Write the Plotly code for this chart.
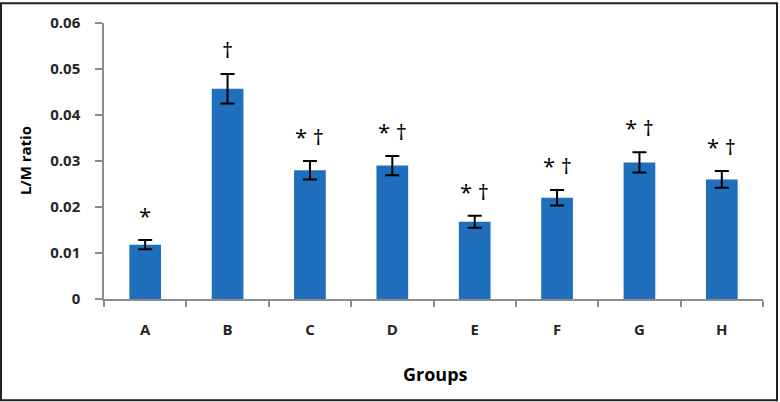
import plotly.graph_objects as go

groups = ["A", "B", "C", "D", "E", "F", "G", "H"]
lm_ratio = [0.0118, 0.0457, 0.0280, 0.0290, 0.0168, 0.0220, 0.0297, 0.0260]
lm_error = [0.0010, 0.0032, 0.0020, 0.0021, 0.0013, 0.0017, 0.0022, 0.0018]
sig_marks = ["*", "†", "* †", "* †", "* †", "* †", "* †", "* †"]
y_ticks = [0, 0.01, 0.02, 0.03, 0.04, 0.05, 0.06]
y_tick_labels = ["0", "0.01", "0.02", "0.03", "0.04", "0.05", "0.06"]

FONT = "Open Sans"
W, H = 780, 402
L, R, T, B = 104, 17, 21, 103
pw, ph = W - L - R, H - T - B

fig = go.Figure()
fig.add_trace(go.Bar(
    x=groups, y=lm_ratio,
    marker=dict(color="#1f6fbd", line=dict(width=0)),
    error_y=dict(type="data", array=lm_error, visible=True,
                 color="black", thickness=2, width=7),
))

for g, v, e, m in zip(groups, lm_ratio, lm_error, sig_marks):
    fig.add_annotation(x=g, y=v + e, text=m, showarrow=False,
                       yanchor="bottom", yshift=8,
                       font=dict(family=FONT, size=22, color="black"))

# axis titles
fig.add_annotation(xref="paper", yref="paper", x=(435 - L) / pw, y=-(375 - (T + ph)) / ph,
                   text="<b>Groups</b>", showarrow=False, xanchor="center", yanchor="middle",
                   font=dict(family=FONT, size=18, color="black"))
fig.add_annotation(xref="paper", yref="paper", x=(25 - L) / pw, y=0.5,
                   text="<b>L/M ratio</b>", showarrow=False, textangle=-90,
                   xanchor="center", yanchor="middle",
                   font=dict(family=FONT, size=15, color="black"))

# outer frame
fig.add_shape(type="rect", xref="paper", yref="paper",
              x0=(1 - L) / pw, x1=(W - 3 - L) / pw,
              y0=(T + ph - (H - 1)) / ph, y1=(T + ph - 1) / ph,
              line=dict(color="#222222", width=2), fillcolor="rgba(0,0,0,0)", layer="above")

fig.update_layout(
    width=W, height=H,
    margin=dict(l=L, r=R, t=T, b=B),
    paper_bgcolor="white", plot_bgcolor="white",
    showlegend=False,
    bargap=0.615,
    font=dict(family=FONT),
)
fig.update_xaxes(
    showline=True, linecolor="#8c8c8c", linewidth=1.5,
    ticks="outside", tickson="boundaries", ticklen=6, tickcolor="#8c8c8c", tickwidth=1.5,
    tickfont=dict(family=FONT, size=15, color="#262626", weight="bold"),
    ticklabelstandoff=16, showgrid=False, zeroline=False,
)
fig.update_yaxes(
    range=[0, 0.06], tickvals=y_ticks, ticktext=y_tick_labels,
    showline=True, linecolor="#8c8c8c", linewidth=1.5,
    ticks="outside", ticklen=7, tickcolor="#8c8c8c", tickwidth=1.5,
    tickfont=dict(family=FONT, size=15, color="#262626", weight="bold"),
    ticklabelstandoff=12, showgrid=False, zeroline=False,
)

fig.write_html("out.html", config={"displayModeBar": False},
               post_script="document.body.style.margin='0';document.body.style.overflow='hidden';")
